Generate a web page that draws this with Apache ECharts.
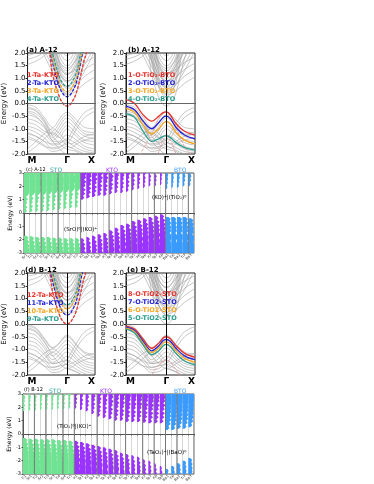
<!DOCTYPE html>
<html>
<head>
<meta charset="utf-8">
<script src="https://cdn.jsdelivr.net/npm/echarts@6/dist/echarts.min.js"></script>
<style>
  html, body { margin: 0; padding: 0; background: #fff; }
  #chart { width: 374px; height: 484px; }
</style>
</head>
<body>
<div id="chart"></div>
<script>
// k-path samples: M -> Γ -> X
var kPts = [0, 0.3, 0.6, 0.9, 1.15, 1.3, 1.414, 1.55, 1.75, 2.05, 2.414]
var kGamma = 1.414
var kEnd = 2.414
var kLabels = ['M', 'Γ', 'X']

// ---- A-12 bands (gray, total) ----
var cbA = [
  [3, 3, 3, 1.14, 0.23, -0.04, -0.1, -0.01, 0.43, 1.8, 3],
  [3, 3, 3, 1.6, 0.62, 0.34, 0.27, 0.37, 0.85, 2.3, 3],
  [3, 3, 3, 1.75, 0.8, 0.53, 0.47, 0.56, 1.02, 2.4, 3],
  [3, 3, 3, 1.95, 1.02, 0.75, 0.69, 0.78, 1.23, 2.6, 3],
  [3, 3, 3, 2.15, 1.2, 0.91, 0.85, 0.94, 1.4, 2.8, 3],
  [3, 3, 3, 2.3, 1.35, 1.06, 1.0, 1.09, 1.55, 2.95, 3],
  [3, 3, 3, 2.45, 1.5, 1.21, 1.15, 1.24, 1.7, 3, 3],
  [3, 3, 3, 2.6, 1.65, 1.36, 1.3, 1.39, 1.85, 3, 3],
  [3, 3, 3, 2.8, 1.85, 1.56, 1.5, 1.59, 2.05, 3, 3],
  [3, 3, 3, 3, 2.05, 1.76, 1.7, 1.79, 2.25, 3, 3],
  [3, 3, 3, 3, 2.25, 1.96, 1.9, 2.0, 2.45, 3, 3],
  [3, 3, 3, 1.7, 0.7, 0.42, 0.35, 0.38, 0.5, 0.8, 1.05],
  [3, 3, 3, 1.9, 0.95, 0.67, 0.6, 0.63, 0.76, 1.08, 1.35],
  [3, 3, 3, 2.2, 1.25, 0.97, 0.9, 0.93, 1.05, 1.35, 1.6],
  [3, 3, 3, 2.5, 1.55, 1.27, 1.2, 1.23, 1.35, 1.62, 1.85],
  [3, 2.5, 1.9, 1.2, 0.65, 0.45, 0.4, 0.47, 0.75, 1.3, 2.1],
  [3, 2.7, 2.1, 1.45, 0.9, 0.7, 0.65, 0.72, 1.0, 1.55, 2.3],
  [3, 2.9, 2.3, 1.7, 1.15, 0.95, 0.9, 0.97, 1.25, 1.8, 2.5],
  [3, 3, 2.5, 1.95, 1.4, 1.2, 1.15, 1.22, 1.5, 2.05, 2.7],
  [3, 3, 2.7, 2.2, 1.65, 1.45, 1.4, 1.47, 1.75, 2.3, 2.9],
  [1.55, 1.68, 1.9, 2.3, 3, 3, 3, 3, 3, 3, 3],
  [1.75, 1.85, 2.05, 2.6, 3, 3, 3, 3, 3, 3, 3],
  [1.9, 2.0, 2.2, 2.8, 3, 3, 3, 3, 3, 3, 3]
]
var vbA = [
  [-0.05, -0.15, -0.55, -0.95, -0.6, -0.4, -0.35, -0.42, -0.65, -0.95, -1.0],
  [-0.15, -0.25, -0.65, -1.1, -0.75, -0.52, -0.45, -0.52, -0.8, -1.1, -1.15],
  [-0.3, -0.4, -0.75, -1.25, -0.9, -0.65, -0.58, -0.65, -0.9, -1.2, -1.25],
  [-0.45, -0.55, -0.85, -1.35, -1.05, -0.8, -0.72, -0.8, -1.05, -1.3, -1.4],
  [-0.6, -0.7, -0.95, -1.45, -1.2, -0.95, -0.88, -0.95, -1.2, -1.45, -1.5],
  [-0.75, -0.85, -1.1, -1.2, -1.35, -1.1, -1.0, -1.1, -1.3, -1.55, -1.65],
  [-0.9, -1.0, -1.2, -1.5, -1.5, -1.3, -1.25, -1.3, -1.45, -1.7, -1.8],
  [-1.0, -1.15, -1.35, -1.65, -1.6, -1.45, -1.4, -1.45, -1.6, -1.8, -1.9],
  [-1.15, -1.3, -1.5, -1.8, -1.75, -1.6, -1.55, -1.6, -1.75, -1.9, -1.95],
  [-1.3, -1.45, -1.65, -1.9, -1.85, -1.75, -1.7, -1.75, -1.85, -2.0, -2.05],
  [-1.8, -1.5, -1.2, -1.0, -1.2, -1.4, -1.5, -1.6, -1.5, -1.3, -1.2],
  [-1.95, -1.7, -1.4, -1.15, -1.35, -1.55, -1.65, -1.75, -1.6, -1.45, -1.35],
  [-1.2, -1.3, -1.5, -1.6, -1.55, -1.5, -1.45, -1.2, -0.8, -0.35, -0.15],
  [-1.4, -1.5, -1.7, -1.75, -1.7, -1.65, -1.6, -1.4, -1.0, -0.55, -0.3],
  [-0.2, -0.3, -0.7, -1.3, -1.6, -1.75, -1.8, -1.85, -1.9, -2.1, -2.2],
  [-0.35, -0.5, -0.9, -1.5, -1.8, -1.95, -2.0, -2.05, -2.1, -2.2, -2.3]
]
// projected bands (a): Ta in KTO, (b): O in TiO2-BTO
var projA = [
  [3, 3, 3, 1.14, 0.23, -0.04, -0.1, -0.01, 0.43, 1.8, 3],
  [3, 3, 3, 1.6, 0.62, 0.34, 0.27, 0.37, 0.85, 2.3, 3],
  [3, 3, 3, 1.75, 0.8, 0.53, 0.47, 0.56, 1.02, 2.4, 3],
  [3, 3, 3, 1.95, 1.02, 0.75, 0.69, 0.78, 1.23, 2.6, 3]
]
var projB = [
  [0.15, 0.0, -0.45, -0.7, -0.5, -0.36, -0.33, -0.45, -0.8, -1.1, -1.25],
  [-0.1, -0.25, -0.7, -1.0, -0.75, -0.55, -0.5, -0.6, -0.95, -1.25, -1.4],
  [-0.2, -0.35, -0.85, -1.2, -1.0, -0.78, -0.72, -0.8, -1.15, -1.45, -1.6],
  [-0.4, -0.55, -1.1, -1.5, -1.4, -1.3, -1.27, -1.35, -1.55, -1.75, -1.85]
]
var pinkB = [
  [-2.5, -2.3, -1.8, -1.2, -0.6, -0.38, -0.3, -0.45, -0.95, -1.7, -2.2],
  [-3, -3, -3, -2.8, -1.9, -1.45, -1.3, -1.45, -2.0, -3, -3]
]

// ---- B-12 bands ----
var cbB = [
  [3, 3, 3, 1.25, 0.33, 0.06, 0.0, 0.09, 0.53, 1.9, 3],
  [3, 3, 3, 1.65, 0.7, 0.42, 0.35, 0.45, 0.92, 2.35, 3],
  [3, 3, 3, 1.85, 0.92, 0.65, 0.59, 0.68, 1.12, 2.5, 3],
  [3, 3, 3, 2.0, 1.08, 0.81, 0.75, 0.84, 1.28, 2.65, 3],
  [3, 3, 3, 2.2, 1.25, 0.97, 0.92, 1.0, 1.45, 2.85, 3],
  [3, 3, 3, 2.35, 1.4, 1.12, 1.07, 1.15, 1.6, 3, 3],
  [3, 3, 3, 2.5, 1.55, 1.27, 1.22, 1.3, 1.75, 3, 3],
  [3, 3, 3, 2.7, 1.75, 1.47, 1.42, 1.5, 1.95, 3, 3],
  [3, 3, 3, 2.9, 1.95, 1.67, 1.62, 1.7, 2.15, 3, 3],
  [3, 3, 3, 3, 2.15, 1.87, 1.82, 1.9, 2.35, 3, 3],
  [3, 3, 3, 1.75, 0.75, 0.45, 0.38, 0.41, 0.55, 0.85, 1.1],
  [3, 3, 3, 2.0, 1.0, 0.72, 0.65, 0.68, 0.8, 1.12, 1.4],
  [3, 3, 3, 2.25, 1.3, 1.02, 0.95, 0.98, 1.1, 1.4, 1.65],
  [3, 3, 3, 2.55, 1.6, 1.32, 1.25, 1.28, 1.4, 1.68, 1.9],
  [3, 2.55, 1.95, 1.25, 0.7, 0.5, 0.45, 0.52, 0.8, 1.35, 2.15],
  [3, 2.75, 2.15, 1.5, 0.95, 0.75, 0.7, 0.77, 1.05, 1.6, 2.35],
  [3, 2.95, 2.35, 1.75, 1.2, 1.0, 0.95, 1.02, 1.3, 1.85, 2.55],
  [3, 3, 2.55, 2.0, 1.45, 1.25, 1.2, 1.27, 1.55, 2.1, 2.75],
  [3, 3, 2.75, 2.25, 1.7, 1.5, 1.45, 1.52, 1.8, 2.35, 2.95],
  [1.5, 1.62, 1.85, 2.3, 3, 3, 3, 3, 3, 3, 3],
  [1.7, 1.8, 2.0, 2.6, 3, 3, 3, 3, 3, 3, 3],
  [1.88, 1.95, 2.15, 2.8, 3, 3, 3, 3, 3, 3, 3]
]
var vbB = [
  [-0.02, -0.15, -0.55, -0.92, -0.72, -0.5, -0.45, -0.52, -0.8, -1.1, -1.2],
  [-0.08, -0.2, -0.6, -0.95, -0.75, -0.55, -0.5, -0.58, -0.85, -1.15, -1.3],
  [-0.2, -0.32, -0.72, -1.1, -0.9, -0.7, -0.64, -0.72, -1.0, -1.3, -1.4],
  [-0.35, -0.45, -0.85, -1.25, -1.05, -0.85, -0.8, -0.88, -1.15, -1.45, -1.55],
  [-0.5, -0.6, -0.95, -1.4, -1.2, -1.0, -0.95, -1.02, -1.3, -1.55, -1.65],
  [-0.65, -0.75, -1.1, -1.5, -1.35, -1.15, -1.1, -1.18, -1.4, -1.65, -1.75],
  [-0.8, -0.9, -1.2, -1.55, -1.5, -1.32, -1.27, -1.33, -1.52, -1.75, -1.85],
  [-0.95, -1.05, -1.35, -1.7, -1.62, -1.48, -1.42, -1.48, -1.65, -1.85, -1.95],
  [-1.1, -1.25, -1.5, -1.8, -1.75, -1.62, -1.58, -1.63, -1.78, -1.95, -2.05],
  [-1.25, -1.4, -1.65, -1.9, -1.87, -1.77, -1.72, -1.77, -1.88, -2.05, -2.1],
  [-1.75, -1.45, -1.15, -0.98, -1.15, -1.35, -1.45, -1.55, -1.45, -1.25, -1.15],
  [-1.9, -1.65, -1.35, -1.12, -1.3, -1.5, -1.6, -1.7, -1.55, -1.4, -1.3],
  [-1.15, -1.25, -1.45, -1.55, -1.5, -1.45, -1.4, -1.15, -0.75, -0.3, -0.1],
  [-1.35, -1.45, -1.65, -1.7, -1.65, -1.6, -1.55, -1.35, -0.95, -0.5, -0.25],
  [-0.15, -0.28, -0.68, -1.25, -1.55, -1.7, -1.75, -1.8, -1.88, -2.05, -2.2]
]
var projD = [
  [3, 3, 3, 1.25, 0.33, 0.06, 0.0, 0.09, 0.53, 1.9, 3],
  [3, 3, 3, 1.65, 0.7, 0.42, 0.35, 0.45, 0.92, 2.35, 3],
  [3, 3, 3, 1.85, 0.92, 0.65, 0.59, 0.68, 1.12, 2.5, 3],
  [3, 3, 3, 2.0, 1.08, 0.81, 0.75, 0.84, 1.28, 2.65, 3]
]
var projE = [
  [-0.08, -0.2, -0.6, -0.95, -0.75, -0.55, -0.5, -0.58, -0.85, -1.15, -1.3],
  [-0.12, -0.25, -0.68, -1.05, -0.85, -0.65, -0.6, -0.68, -0.95, -1.25, -1.4],
  [-0.16, -0.3, -0.75, -1.12, -0.95, -0.75, -0.7, -0.78, -1.05, -1.35, -1.5],
  [-0.2, -0.35, -0.82, -1.2, -1.05, -0.85, -0.8, -0.88, -1.15, -1.45, -1.6]
]
var pinkE = [
  [-3, -3, -2.6, -2.0, -1.6, -1.45, -1.4, -1.5, -1.8, -2.3, -2.6]
]

var legA = ['1-Ta-KTO', '2-Ta-KTO', '3-Ta-KTO', '4-Ta-KTO']
var legB = ['1-O-TiO₂-BTO', '2-O-TiO₂-BTO', '3-O-TiO₂-BTO', '4-O-TiO₂-BTO']
var legD = ['12-Ta-KTO', '11-Ta-KTO', '10-Ta-KTO', '9-Ta-KTO']
var legE = ['8-O-TiO2-STO', '7-O-TiO2-STO', '6-O-TiO2-STO', '5-O-TiO2-STO']
var projColors = ['#e8322b', '#2323d6', '#f5a623', '#2a9d8f']

// ---- layer-resolved DOS (c) A-12 and (f) B-12 ----
var dosStep = 0.15
var matColors = ['#6ee391', '#9b33ff', '#3a9bff']
// width fraction of a layer column, from the band edge outwards
var cbProf = [
  [0.2, 0.5, 0.3, 0.6, 0.25, 0.55, 0.4, 0.7, 0.35, 0.75, 0.95, 1, 0.9, 1, 1, 1, 1, 0.9, 1, 1, 1, 1],
  [0.3, 0.65, 0.4, 0.8, 0.5, 0.9, 0.45, 0.85, 0.65, 1, 0.6, 0.95, 0.8, 1, 0.85, 1, 0.95, 1, 1, 1, 1, 1],
  [0.35, 0.7, 0.5, 0.9, 0.65, 1, 0.75, 1, 0.8, 1, 0.9, 1, 0.9, 1, 1, 1, 1, 1, 1, 1, 1, 1]
]
var vbProf = [
  [0.4, 0.8, 0.55, 0.95, 0.7, 1, 0.8, 1, 0.9, 1, 0.9, 1, 1, 0.95, 1, 1, 1, 1, 1, 1, 1, 1],
  [0.35, 0.75, 0.5, 0.95, 0.65, 1, 0.75, 1, 0.8, 1, 1, 0.85, 1, 1, 0.95, 1, 1, 1, 1, 1, 1, 1],
  [0.5, 0.9, 0.7, 1, 0.75, 1, 0.85, 1, 0.7, 1, 1, 1, 0.85, 1, 1, 1, 1, 1, 1, 1, 1, 1]
]

var labelsC = ['Sr1', 'Ti1', 'Sr2', 'Ti2', 'Sr3', 'Ti3', 'Sr4', 'Ti4', 'Sr5', 'Ti5',
  'K1', 'Ta1', 'K2', 'Ta2', 'K3', 'Ta3', 'K4', 'Ta4', 'K5', 'Ta5', 'K6', 'Ta6', 'K7', 'Ta7', 'K8',
  'Ba1', 'Ti6', 'Ba2', 'Ti7', 'Ba3']
var matC = [0, 0, 0, 0, 0, 0, 0, 0, 0, 0, 1, 1, 1, 1, 1, 1, 1, 1, 1, 1, 1, 1, 1, 1, 1, 2, 2, 2, 2, 2]
var cbC = [0.0, 0.05, 0.1, 0.1, 0.15, 0.2, 0.25, 0.3, 0.35, 0.4,
  1.0, 1.1, 1.2, 1.3, 1.3, 1.4, 1.5, 1.5, 1.6, 1.7, 1.8, 1.9, 2.0, 2.0, 2.1,
  1.8, 1.9, 1.9, 2.0, 2.0]
var vbC = [-1.7, -1.75, -1.8, -1.8, -1.8, -1.85, -1.85, -1.9, -1.9, -1.9,
  -1.9, -1.8, -1.7, -1.6, -1.5, -1.3, -1.1, -0.9, -0.8, -0.6, -0.5, -0.4, -0.3, -0.2, -0.1,
  -0.3, -0.3, -0.3, -0.3, -0.4]
var cbAmpC = [1, 1, 1, 1, 1, 1, 1, 1, 1, 1,
  1, 1, 1, 0.95, 0.9, 0.85, 0.8, 0.75, 0.7, 0.65, 0.6, 0.55, 0.5, 0.5, 0.45,
  0.45, 0.45, 0.5, 0.5, 0.55]
var vbAmpC = [1, 1, 1, 1, 1, 1, 1, 1, 1, 1,
  0.85, 0.85, 0.9, 0.9, 0.9, 0.95, 0.95, 1, 1, 1, 1, 1, 1, 1, 1,
  1, 1, 1, 1, 1]
var darkC = [3, 6, 10, 15, 19, 23, 25, 29]

var labelsF = ['Ti1', 'Sr1', 'Ti2', 'Sr2', 'Ti3', 'Sr3', 'Ti4', 'Sr4', 'Ti5',
  'K1', 'Ta1', 'K2', 'Ta2', 'K3', 'Ta3', 'K4', 'Ta4', 'K5', 'Ta5', 'K6', 'Ta6', 'K7', 'Ta7', 'K8', 'Ta8',
  'Ba1', 'Ti6', 'Ba2', 'Ti7', 'Ba3']
var matF = [0, 0, 0, 0, 0, 0, 0, 0, 0, 1, 1, 1, 1, 1, 1, 1, 1, 1, 1, 1, 1, 1, 1, 1, 1, 2, 2, 2, 2, 2]
var cbF = [1.7, 1.75, 1.75, 1.8, 1.8, 1.8, 1.85, 1.85, 1.9,
  1.9, 1.8, 1.7, 1.5, 1.3, 1.2, 1.1, 1.0, 1.0, 0.9, 0.9, 0.9, 0.85, 0.8, 0.8, 0.8,
  0.3, 0.3, 0.4, 0.4, 0.5]
var vbF = [-0.3, -0.35, -0.35, -0.4, -0.4, -0.4, -0.45, -0.45, -0.5,
  -0.5, -0.6, -0.7, -0.8, -0.9, -1.0, -1.1, -1.2, -1.4, -1.5, -1.6, -1.7, -1.9, -2.0, -2.2, -2.4,
  -2.6, -2.4, -2.2, -2.0, -1.8]
var cbAmpF = [0.6, 0.6, 0.6, 0.6, 0.6, 0.6, 0.6, 0.6, 0.6,
  0.6, 0.65, 0.7, 0.75, 0.8, 0.85, 0.9, 0.9, 0.9, 0.95, 0.95, 0.95, 1, 1, 1, 1,
  1, 1, 1, 1, 1]
var vbAmpF = [1, 1, 1, 1, 1, 1, 1, 1, 1,
  1, 1, 1, 1, 0.95, 0.9, 0.9, 0.85, 0.8, 0.75, 0.7, 0.65, 0.6, 0.55, 0.5, 0.5,
  0.6, 0.65, 0.7, 0.7, 0.75]
var darkF = [2, 4, 7, 9, 13, 16, 18, 21, 23, 25, 27]

var FONT = 'DejaVu Sans'

// panel boxes
var grids = [
  { left: 25, top: 53, width: 70, height: 101 },   // (a)
  { left: 126, top: 53, width: 69, height: 101 },  // (b)
  { left: 24, top: 173, width: 170, height: 80 },  // (c)
  { left: 24, top: 273, width: 71, height: 102 },  // (d)
  { left: 126, top: 273, width: 69, height: 102 }, // (e)
  { left: 23, top: 394, width: 171, height: 81 }   // (f)
]

function bandLines (bands, gi, color, width, type) {
  return bands.map(function (b) {
    return {
      type: 'line',
      xAxisIndex: gi,
      yAxisIndex: gi,
      smooth: 0.35,
      symbol: 'none',
      silent: true,
      z: type === 'gray' ? 2 : 4,
      lineStyle: { color: color, width: width, type: type === 'gray' ? 'solid' : type },
      data: kPts.map(function (k, j) { return [k, b[j]] })
    }
  })
}

function refLines (gi) {
  return {
    type: 'line',
    xAxisIndex: gi,
    yAxisIndex: gi,
    data: [],
    silent: true,
    markLine: {
      symbol: 'none',
      silent: true,
      label: { show: false },
      data: [
        { yAxis: 0, lineStyle: { color: '#666', width: 1, type: 'solid' } },
        { xAxis: kGamma, lineStyle: { color: '#000', width: 1, type: 'solid' } }
      ]
    }
  }
}

function dosShape (api, i, edge, prof, amp, dir) {
  var c = api.coord([i, 0])
  var w = api.size([1, 0])[0]
  var x0 = c[0] - w / 2
  var lim = dir > 0 ? 3 : -3
  var pts = [[x0, api.coord([i, edge])[1]]]
  var last = 0
  for (var j = 0; j < prof.length; j++) {
    var e = edge + dir * j * dosStep
    if (dir > 0 ? e > lim : e < lim) break
    last = prof[j] * amp * w
    pts.push([x0 + last, api.coord([i, e])[1]])
  }
  pts.push([x0 + last, api.coord([i, lim])[1]])
  pts.push([x0, api.coord([i, lim])[1]])
  return pts
}

function dosSeries (gi, mat, cb, vb, cbAmp, vbAmp) {
  return {
    type: 'custom',
    xAxisIndex: gi,
    yAxisIndex: gi,
    silent: true,
    z: 3,
    data: mat.map(function (m, i) { return [i, 0] }),
    renderItem: function (params, api) {
      var i = params.dataIndex
      var m = mat[i]
      return {
        type: 'group',
        children: [
          { type: 'polygon', shape: { points: dosShape(api, i, cb[i], cbProf[m], cbAmp[i], 1) }, style: { fill: matColors[m] } },
          { type: 'polygon', shape: { points: dosShape(api, i, vb[i], vbProf[m], vbAmp[i], -1) }, style: { fill: matColors[m] } }
        ]
      }
    }
  }
}

function darkLines (gi, idx) {
  return {
    type: 'custom',
    xAxisIndex: gi,
    yAxisIndex: gi,
    silent: true,
    z: 5,
    data: idx.map(function (d) { return [d, 0] }),
    renderItem: function (params, api) {
      var d = idx[params.dataIndex]
      var w = api.size([1, 0])[0]
      var top = api.coord([d, 3])
      var bot = api.coord([d, -3])
      var x = top[0] - w / 2
      return { type: 'line', shape: { x1: x, y1: top[1], x2: x, y2: bot[1] }, style: { stroke: '#777', lineWidth: 1 } }
    }
  }
}

function bandX (gi) {
  return {
    gridIndex: gi,
    type: 'value',
    min: 0,
    max: kEnd,
    axisLine: { show: true, lineStyle: { color: '#222', width: 1 } },
    axisTick: { show: false },
    splitLine: { show: false },
    axisLabel: {
      customValues: [0, kGamma, kEnd],
      formatter: function (v) { return v < 0.1 ? kLabels[0] : (v < 2 ? kLabels[1] : kLabels[2]) },
      alignMinLabel: 'left',
      alignMaxLabel: 'right',
      fontSize: 9,
      fontWeight: 'bold',
      color: '#000',
      margin: 2,
      fontFamily: FONT
    }
  }
}

function bandY (gi, gap) {
  return {
    gridIndex: gi,
    type: 'value',
    min: -2,
    max: 2,
    interval: 0.5,
    name: 'Energy (eV)',
    nameLocation: 'middle',
    nameGap: gap,
    nameTextStyle: { fontSize: 7, color: '#000', fontFamily: FONT },
    axisLine: { show: true, lineStyle: { color: '#222', width: 1 } },
    axisTick: { show: true, length: 2, lineStyle: { color: '#222' } },
    splitLine: { show: false },
    axisLabel: {
      formatter: function (v) { return v.toFixed(1) },
      fontSize: 7,
      color: '#000',
      margin: 2,
      fontFamily: FONT
    }
  }
}

function dosX (gi, labels) {
  return {
    gridIndex: gi,
    type: 'category',
    data: labels,
    boundaryGap: true,
    axisLine: { show: true, lineStyle: { color: '#555', width: 1 } },
    axisTick: { show: true, length: 1.5, lineStyle: { color: '#555' } },
    splitLine: { show: true, lineStyle: { color: '#bdbdbd', width: 0.6 } },
    axisLabel: { rotate: 45, fontSize: 3.6, interval: 0, margin: 1.5, color: '#333', fontFamily: FONT }
  }
}

function dosY (gi) {
  return {
    gridIndex: gi,
    type: 'value',
    min: -3,
    max: 3,
    interval: 1,
    name: 'Energy (eV)',
    nameLocation: 'middle',
    nameGap: 8,
    nameTextStyle: { fontSize: 6, color: '#000', fontFamily: FONT },
    axisLine: { show: true, lineStyle: { color: '#555', width: 1 } },
    axisTick: { show: true, length: 1.5, lineStyle: { color: '#555' } },
    splitLine: { show: false },
    axisLabel: { fontSize: 5, color: '#000', margin: 2, fontFamily: FONT }
  }
}

function txt (x, y, s, size, color, bold) {
  return {
    type: 'text',
    x: x,
    y: y,
    z: 100,
    silent: true,
    style: {
      text: s,
      fill: color,
      fontSize: size,
      fontWeight: bold ? 'bold' : 'normal',
      fontFamily: FONT,
      textVerticalAlign: 'middle'
    }
  }
}

function legendTexts (x, y0, labels) {
  return labels.map(function (s, i) {
    return txt(x, y0 + i * 8.2, s, 6.5, projColors[i], true)
  })
}

var series = []
  .concat(bandLines(cbA, 0, '#a8a8a8', 0.6, 'gray'))
  .concat(bandLines(vbA, 0, '#a8a8a8', 0.6, 'gray'))
  .concat(projA.map(function (b, i) { return bandLines([b], 0, projColors[i], 1.3, [3, 1.5])[0] }))
  .concat([refLines(0)])
  .concat(bandLines(cbA, 1, '#a0a0a0', 0.6, 'gray'))
  .concat(bandLines(vbA, 1, '#a0a0a0', 0.6, 'gray'))
  .concat(bandLines(pinkB, 1, '#e8a4a4', 1, [3, 1.5]))
  .concat(projB.map(function (b, i) { return bandLines([b], 1, projColors[i], 1.3, 'solid')[0] }))
  .concat([refLines(1)])
  .concat([dosSeries(2, matC, cbC, vbC, cbAmpC, vbAmpC), darkLines(2, darkC)])
  .concat(bandLines(cbB, 3, '#a8a8a8', 0.6, 'gray'))
  .concat(bandLines(vbB, 3, '#a8a8a8', 0.6, 'gray'))
  .concat(projD.map(function (b, i) { return bandLines([b], 3, projColors[i], 1.3, [3, 1.5])[0] }))
  .concat([refLines(3)])
  .concat(bandLines(cbB, 4, '#a0a0a0', 0.6, 'gray'))
  .concat(bandLines(vbB, 4, '#a0a0a0', 0.6, 'gray'))
  .concat(bandLines(pinkE, 4, '#e8a4a4', 1, [3, 1.5]))
  .concat(projE.map(function (b, i) { return bandLines([b], 4, projColors[i], 1.3, 'solid')[0] }))
  .concat([refLines(4)])
  .concat([dosSeries(5, matF, cbF, vbF, cbAmpF, vbAmpF), darkLines(5, darkF)])

var graphics = [
  txt(26, 50, '(a) A-12', 7, '#000', true),
  txt(128, 50, '(b) A-12', 7, '#000', true),
  txt(26, 170, '(c) A-12', 5, '#000', false),
  txt(50, 170, 'STO', 6, '#2fa89a', false),
  txt(106, 170, 'KTO', 6, '#9b33ff', false),
  txt(174, 170, 'BTO', 6, '#3a9bff', false),
  txt(64, 230, '(SrO)⁰|(KO)⁺', 5.5, '#000', false),
  txt(152, 198, '(KO)⁺|(TiO₂)⁰', 5.5, '#000', false),
  txt(25, 270, '(d) B-12', 7, '#000', true),
  txt(127, 270, '(e) B-12', 7, '#000', true),
  txt(24, 390, '(f) B-12', 5, '#000', false),
  txt(49, 391, 'STO', 6, '#2fa89a', false),
  txt(100, 391, 'KTO', 6, '#9b33ff', false),
  txt(174, 391, 'BTO', 6, '#3a9bff', false),
  txt(57, 427, '(TiO₂)⁰|(KO)⁺', 5.5, '#000', false),
  txt(147, 453, '(TaO₂)⁺|(BaO)⁰', 5.5, '#000', false)
]
  .concat(legendTexts(27, 75, legA))
  .concat(legendTexts(128, 75, legB))
  .concat(legendTexts(27, 295, legD))
  .concat(legendTexts(128, 294, legE))

var option = {
  animation: false,
  backgroundColor: '#fff',
  textStyle: { fontFamily: FONT },
  grid: grids.map(function (g, i) {
    return Object.assign({ show: true, borderColor: (i === 2 || i === 5) ? '#555' : '#222', borderWidth: 1, backgroundColor: 'transparent', containLabel: false }, g)
  }),
  xAxis: [bandX(0), bandX(1), dosX(2, labelsC), bandX(3), bandX(4), dosX(5, labelsF)],
  yAxis: [bandY(0, 11), bandY(1, 11), dosY(2), bandY(3, 11), bandY(4, 11), dosY(5)],
  graphic: graphics,
  series: series
}

var chart = echarts.init(document.getElementById('chart'))
chart.setOption(option)
</script>
</body>
</html>
